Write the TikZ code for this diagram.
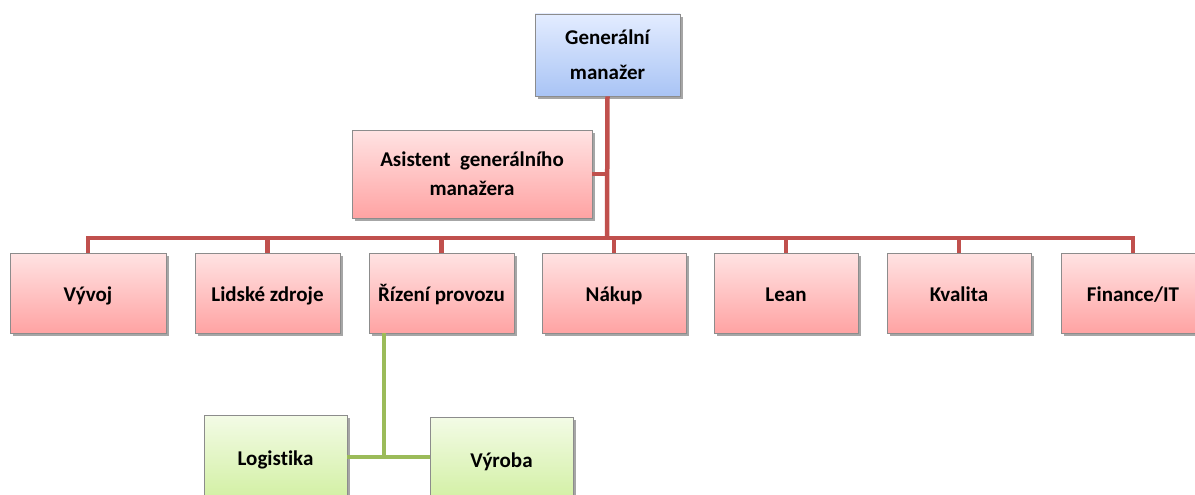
\documentclass[tikz,border=0pt]{standalone}
\usepackage{fontspec}
\setmainfont[Ligatures=NoCommon]{Carlito}
\usetikzlibrary{shadows}
\definecolor{redline}{HTML}{C0504D}
\definecolor{greenline}{HTML}{9BBB59}
\definecolor{pinktop}{HTML}{FFE3E3}
\definecolor{pinkbot}{HTML}{FFA3A3}
\definecolor{bluetop}{HTML}{E3ECFF}
\definecolor{bluebot}{HTML}{A9C4F5}
\definecolor{greentop}{HTML}{F3FBE6}
\definecolor{greenbot}{HTML}{D2F0A3}
\definecolor{boxborder}{HTML}{8C8C8C}
\tikzset{
  orgbox/.style={draw=boxborder, line width=0.8pt, inner sep=0pt, align=center,
    font=\fontsize{21}{25}\selectfont\bfseries,
    drop shadow={shadow xshift=2.5pt, shadow yshift=-3pt, fill=black, opacity=0.35}},
  oneline/.style={text height=16pt, text depth=0pt},
  pinkbox/.style={orgbox, top color=pinktop, bottom color=pinkbot},
  rowbox/.style={pinkbox, oneline, minimum height=80pt},
  bluebox/.style={orgbox, top color=bluetop, bottom color=bluebot},
  greenbox/.style={orgbox, oneline, top color=greentop, bottom color=greenbot},
  redconn/.style={draw=redline, line width=4.5pt},
  greenconn/.style={draw=greenline, line width=4.5pt},
}
\begin{document}
\begin{tikzpicture}[x=1pt,y=-1pt]
\useasboundingbox (0,0) rectangle (1195,495);
\clip (0,0) rectangle (1195,495);
\coordinate (bus) at (607,238);
\coordinate (gtop) at (384,333);
\node[bluebox, minimum width=145pt, minimum height=82pt] (gm) at (607.5,55)
  {Generální\\[10pt]manažer};
\node[pinkbox, minimum width=240pt, minimum height=88pt] (asist) at (472,174)
  {Asistent\ \ generálního\\[4pt]manažera};
\node[rowbox, minimum width=156pt] (vyvoj) at (88,293) {Vývoj};
\node[rowbox, minimum width=145pt] (lidske) at (267.5,293) {Lidské zdroje};
\node[rowbox, minimum width=145pt] (rizeni) at (441.5,293) {Řízení provozu};
\node[rowbox, minimum width=144pt] (nakup) at (614,293) {Nákup};
\node[rowbox, minimum width=144pt] (lean) at (786,293) {Lean};
\node[rowbox, minimum width=144pt] (kvalita) at (959,293) {Kvalita};
\node[rowbox, minimum width=144pt] (finance) at (1133,293) {Finance/IT};
\node[greenbox, minimum width=143pt, minimum height=84pt] (log) at (275.5,457) {Logistika};
\node[greenbox, minimum width=143pt, minimum height=84pt] (vyroba) at (501.5,459) {Výroba};
% red connectors
\draw[redconn] (gm.south) -- (bus);
\draw[redconn] (asist.east) -- (asist.east -| gm.south);
\foreach \n in {vyvoj,lidske,rizeni,nakup,lean,kvalita,finance}
  \draw[redconn] (bus) -| ([yshift=-0.5pt]\n.north);
% green connectors
\draw[greenconn] (gtop) |- (vyroba.west |- 0,457);
\draw[greenconn] (log.east |- 0,457) -- (gtop |- 0,457);
\end{tikzpicture}
\end{document}
